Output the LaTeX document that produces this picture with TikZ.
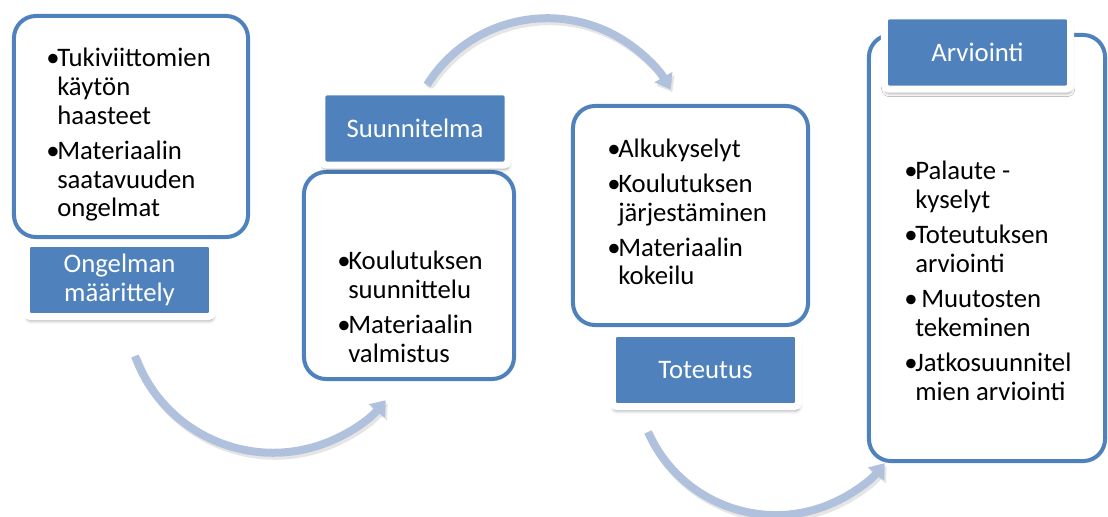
\documentclass[tikz,border=0pt]{standalone}
\usepackage{fontspec}
\setmainfont{Carlito}
\usetikzlibrary{arrows.meta}
\usetikzlibrary{shadows.blur}
\definecolor{smblue}{RGB}{79,129,189}
\definecolor{smarrow}{RGB}{176,193,222}
\newcommand{\bul}{\makebox[7.8pt][l]{•}}
\newcommand{\ind}{\hspace*{7.8pt}}

\begin{document}
\begin{tikzpicture}[x=0.025cm, y=-0.025cm,
    box/.style={draw=smblue, line width=0.1cm, fill=white, rounded corners=0.55cm},
    tag/.style={fill=smblue, draw=white, line width=0.175cm, rounded corners=0.1cm,
      minimum width=4.65cm, minimum height=1.825cm, text=white, align=center,
      font=\fontsize{19}{20.6}\selectfont,
      blur shadow={shadow xshift=0.5pt, shadow yshift=-3pt, shadow blur radius=2.5pt}},
    txt/.style={anchor=base west, align=left, inner sep=0pt, font=\fontsize{19}{20.6}\selectfont},
    flow/.style={draw=smarrow, line width=0.2cm, -{Triangle[length=0.35cm, width=0.5cm]}},
    flowshade/.style={draw=black!40, opacity=0.25, line width=0.2cm, -{Triangle[length=0.35cm, width=0.5cm]}}]
  \useasboundingbox (0,0) rectangle (1108,517);

  % curved arrows
  \coordinate (a1) at (135,356);
  \coordinate (a2) at (427,85);
  \coordinate (a3) at (648,432);
  \foreach \c/\s/\e/\r in {a1/160/40/147, a2/-148/-30/142, a3/156/39/140}
  {
    \draw[flowshade] ([shift={(2,3)}]\c) arc[start angle=\s, end angle=\e, radius=\r];
    \draw[flow] (\c) arc[start angle=\s, end angle=\e, radius=\r];
  }

  % boxes
  \node[box, minimum width=5.85cm, minimum height=5.525cm] (b1) at (131,126.5) {};
  \node[box, minimum width=5.25cm, minimum height=5.175cm] (b2) at (409,275.5) {};
  \node[box, minimum width=5.875cm, minimum height=5.475cm] (b3) at (690.5,215.5) {};
  \node[box, minimum width=5.9cm, minimum height=10.65cm] (b4) at (987,248) {};

  % bullet texts (placed at the baseline of their last line)
  \node[txt] (t1) at (46,217) {\bul Tukiviittomien\\\ind käytön\\\ind haasteet\\[4.3pt]%
    \bul Materiaalin\\\ind saatavuuden\\\ind ongelmat};
  \node[txt] (t2) at (337,362) {\bul Koulutuksen\\\ind suunnittelu\\[4.3pt]%
    \bul Materiaalin\\\ind valmistus};
  \node[txt] (t3) at (607,285) {\bul Alkukyselyt\\[4.3pt]\bul Koulutuksen\\\ind järjestäminen\\[4.3pt]%
    \bul Materiaalin\\\ind kokeilu};
  \node[txt] (t4) at (904,400) {\bul Palaute -\\\ind kyselyt\\[4.3pt]\bul Toteutuksen\\\ind arviointi\\[4.3pt]%
    \bul{} Muutosten\\\ind tekeminen\\[4.3pt]\bul Jatkosuunnitel\\\ind mien arviointi};

  % labels
  \node[tag] (l1) at (119.5,280) {Ongelman\\määrittely};
  \node[tag] (l2) at (415,128.5) {Suunnitelma};
  \node[tag] (l3) at (705.5,370) {Toteutus};
  \node[tag] (l4) at (977.5,52.5) {Arviointi};
\end{tikzpicture}
\end{document}
